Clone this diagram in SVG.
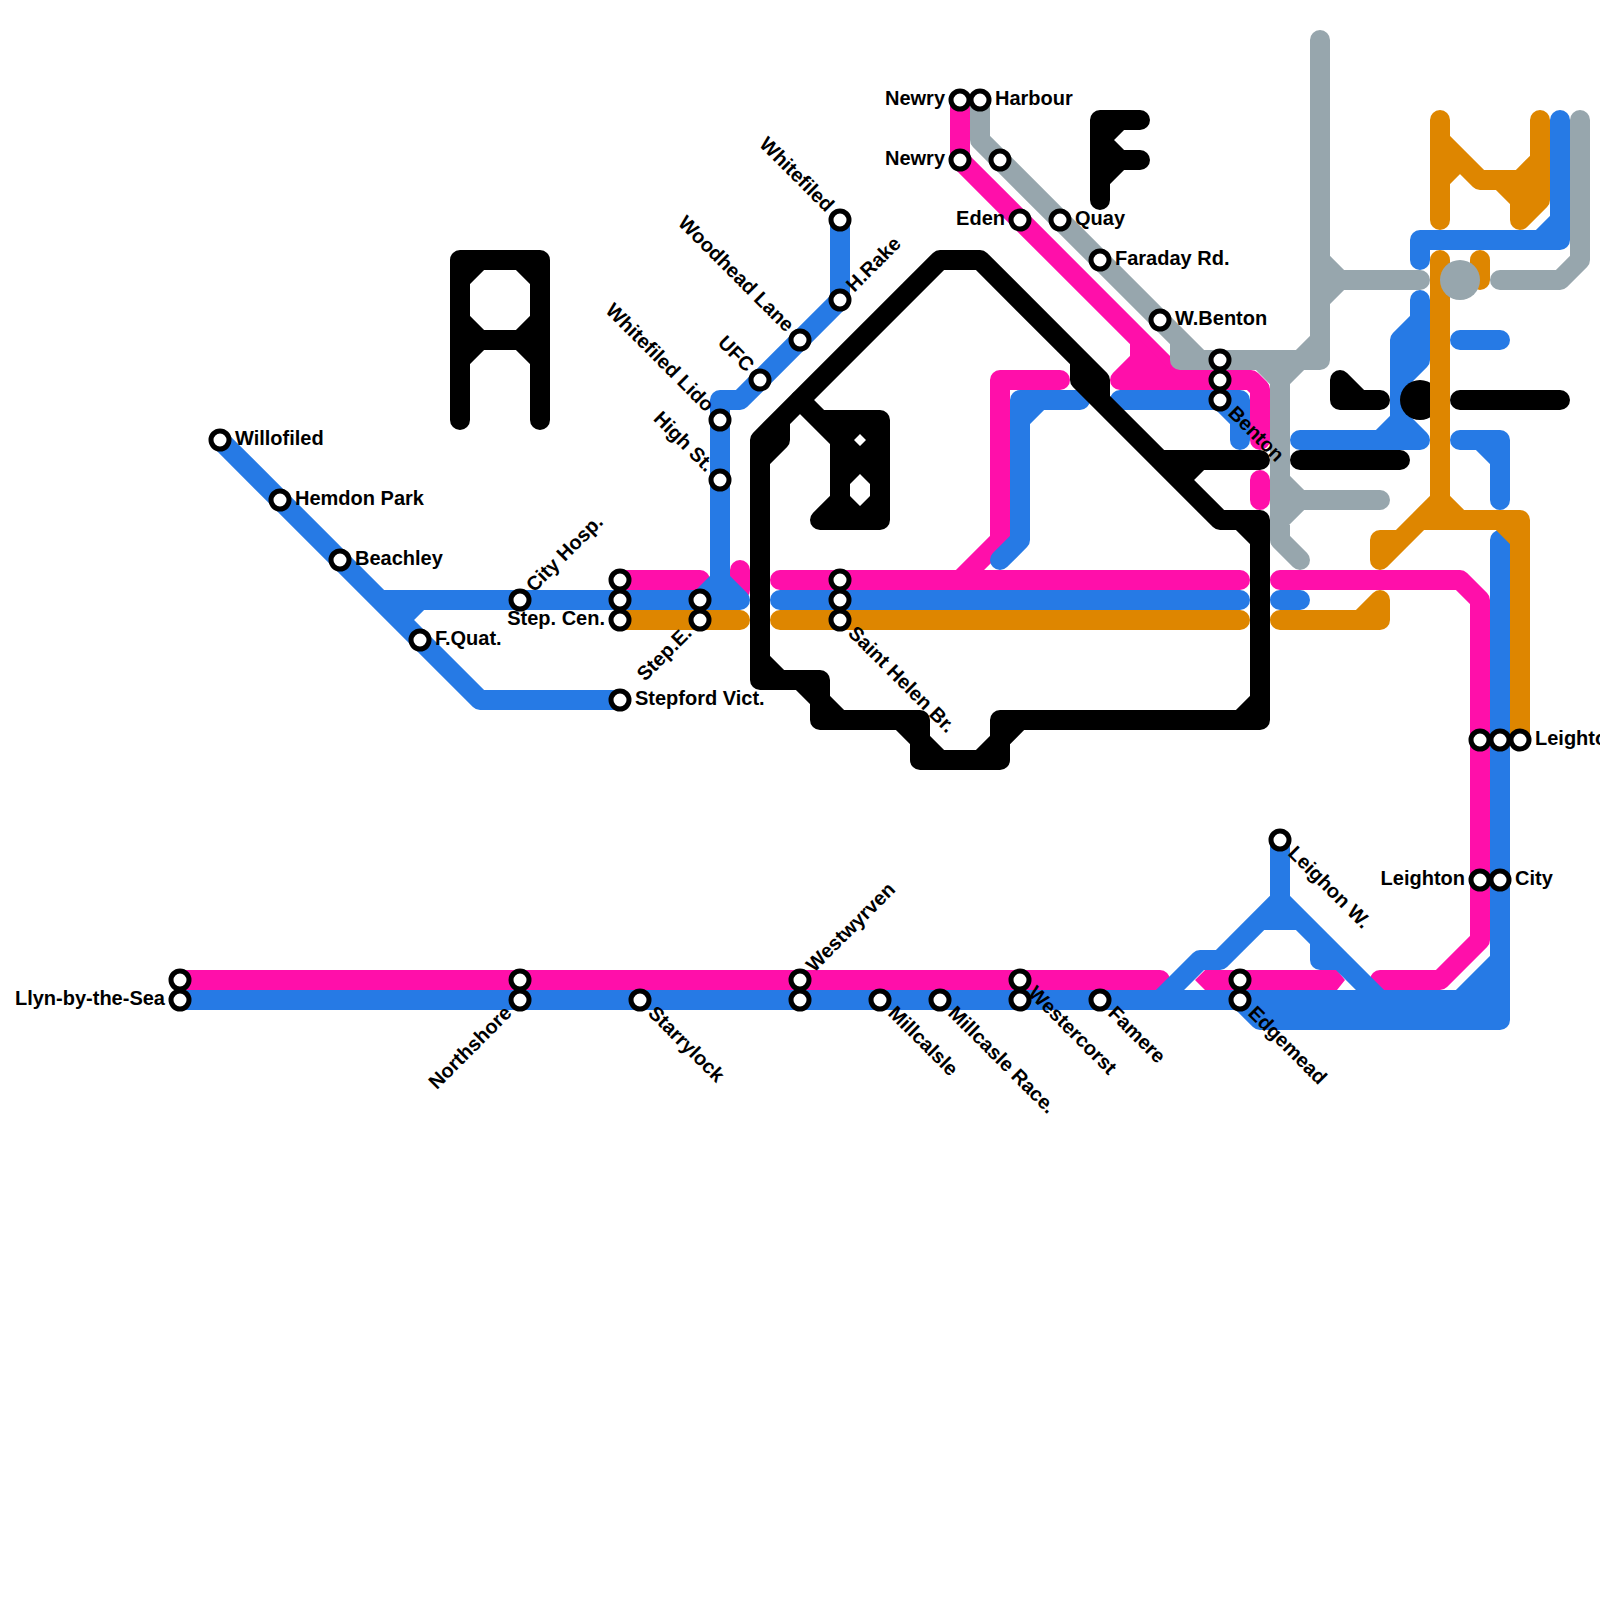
<svg xmlns="http://www.w3.org/2000/svg" width="1600" height="1600" viewBox="0 0 1600 1600">
<style>
.w{fill:none;stroke-width:20;stroke-linecap:round;stroke-linejoin:round}
.p{stroke:#ff0faa}.b{stroke:#267ae5}.g{stroke:#97a6ad}.k{stroke:#000}.o{stroke:#de8600}
.s{fill:#fff;stroke:#000;stroke-width:5}
text{font:bold 20px "Liberation Sans",Arial,sans-serif;fill:#000}
.e{text-anchor:end}
</style>
<rect width="1600" height="1600" fill="#fff"/>
<g id="connectors">
<g id="line-pink">
<path class="w p" d="M180 980H1160M1380 980H1440L1480 940V600L1460 580H1280M620 580H700M780 580H1240M740 570V590M960 100V160L1180 380M1140 340V360L1120 380H1251L1260 389V440M1260 480V500M1060 380H1000V540L960 580"/>
<path fill="#ff0faa" d="M1205 970H1337L1345 980L1337 990H1205L1195 980ZM1140 340L1180 380H1140Z"/>
</g>
<g id="line-blue">
<path class="w b" d="M180 1000H1460L1500 960M1240 1000L1260 1020H1500V540M1160 1000L1200 960H1220L1260 920H1300L1320 940V960H1340M1280 840V900L1380 1000M1280 900L1220 960"/>
<path fill="#267ae5" d="M1460 1000L1500 960V1020H1460Z"/>
<path class="w b" d="M220 440L480 700H620M380 600H740M420 600L400 620M840 220V300L740 400H720V580L700 600M720 580L740 600"/>
<path class="w b" d="M780 600H1240M1280 600H1300M1080 400H1020V540L1000 560M1020 420L1040 400M1120 400H1240V440M1220 400L1240 420"/>
<path class="w b" d="M1420 260V240H1560V120M1540 240L1560 220M1420 300V360L1400 380M1420 320L1400 340V420L1420 440H1300M1400 420L1380 440M1460 340H1500M1460 440H1500V500M1480 440L1500 460"/>
</g>
<g id="line-grey">
<path class="w g" d="M980 100V140L1200 360M1180 340V360H1320V40M1320 340L1280 380V540L1300 560M1260 360L1280 380M1320 300L1340 280H1420M1320 260L1340 280M1280 480L1300 500H1380M1280 520L1300 500M1580 120V260L1560 280H1500"/>
</g>
<g id="line-black">
<path class="w k" d="M460 420V260H540V420M460 340H540M460 280L480 260M520 260L540 280M460 320L480 340M520 340L540 320M460 360L480 340M520 340L540 360"/>
<path class="w k" d="M1100 200V120H1140M1100 160H1140M1100 140L1120 120M1100 140L1120 160M1100 180L1120 160"/>
<path class="w k" d="M1100 400V380L980 260H940L760 440V680H820V720H920V760H1000V720H1260V520H1220L1080 380V360M800 680L840 720M900 720L940 760M1020 720L980 760M760 660L780 680M1260 700L1240 720M1240 520L1260 540M780 420V440L760 460M1160 460H1260M1200 460L1180 480"/>
<path class="w k" d="M800 400L840 440M820 420H880V520H820L840 500V440M840 440V500"/>
<path fill="#000" fill-rule="evenodd" d="M835 420H880V520H835ZM860 434L866 440L860 446L854 440ZM860 474L870 484V496L860 506L850 496V484Z"/>
<path class="w k" d="M1340 400V380L1360 400H1340M1360 400H1380M1460 400H1560M1300 460H1400"/>
<circle cx="1420" cy="400" r="20" fill="#000"/>
</g>
<g id="line-orange">
<path class="w o" d="M620 620H740M780 620H1240M1280 620H1380V600L1360 620"/>
<path class="w o" d="M1440 120V220M1440 140L1480 180H1520L1540 160M1540 120V200L1520 220V180M1520 200L1500 180M1440 180L1460 160"/>
<path class="w o" d="M1440 260V500L1420 520L1380 560V540H1400L1420 520H1520V740M1440 500L1460 520M1500 520L1520 540M1480 260V280"/>
</g>
<circle cx="1460" cy="280" r="20" fill="#97a6ad"/>
</g>
<g id="nodes">
<g id="n-willofiled"><circle class="s" cx="220" cy="440" r="9"/><text x="235" y="445">Willofiled</text></g>
<g id="n-hemdon"><circle class="s" cx="280" cy="500" r="9"/><text x="295" y="505">Hemdon Park</text></g>
<g id="n-beachley"><circle class="s" cx="340" cy="560" r="9"/><text x="355" y="565">Beachley</text></g>
<g id="n-fquat"><circle class="s" cx="420" cy="640" r="9"/><text x="435" y="645">F.Quat.</text></g>
<g id="n-cityhosp"><circle class="s" cx="520" cy="600" r="9"/><text x="535" y="605" transform="rotate(-45 520 600)">City Hosp.</text></g>
<g id="n-stepcen"><circle class="s" cx="620" cy="580" r="9"/><circle class="s" cx="620" cy="600" r="9"/><circle class="s" cx="620" cy="620" r="9"/><text class="e" x="605" y="625">Step. Cen.</text></g>
<g id="n-stepvict"><circle class="s" cx="620" cy="700" r="9"/><text x="635" y="705">Stepford Vict.</text></g>
<g id="n-stepe"><circle class="s" cx="700" cy="600" r="9"/><circle class="s" cx="700" cy="620" r="9"/><text class="e" x="685" y="625" transform="rotate(-45 700 620)">Step.E.</text></g>
<g id="n-lido"><circle class="s" cx="720" cy="420" r="9"/><text class="e" x="705" y="425" transform="rotate(45 720 420)">Whitefiled Lido</text></g>
<g id="n-highst"><circle class="s" cx="720" cy="480" r="9"/><text class="e" x="705" y="485" transform="rotate(45 720 480)">High St.</text></g>
<g id="n-ufc"><circle class="s" cx="760" cy="380" r="9"/><text class="e" x="745" y="385" transform="rotate(45 760 380)">UFC</text></g>
<g id="n-woodhead"><circle class="s" cx="800" cy="340" r="9"/><text class="e" x="785" y="345" transform="rotate(45 800 340)">Woodhead Lane</text></g>
<g id="n-hrake"><circle class="s" cx="840" cy="300" r="9"/><text x="855" y="305" transform="rotate(-45 840 300)">H.Rake</text></g>
<g id="n-whitefiled"><circle class="s" cx="840" cy="220" r="9"/><text class="e" x="825" y="225" transform="rotate(45 840 220)">Whitefiled</text></g>
<g id="n-sthelen"><circle class="s" cx="840" cy="580" r="9"/><circle class="s" cx="840" cy="600" r="9"/><circle class="s" cx="840" cy="620" r="9"/><text x="855" y="625" transform="rotate(45 840 620)">Saint Helen Br.</text></g>
<g id="n-newry1"><circle class="s" cx="960" cy="100" r="9"/><text class="e" x="945" y="105">Newry</text></g>
<g id="n-harbour"><circle class="s" cx="980" cy="100" r="9"/><text x="995" y="105">Harbour</text></g>
<g id="n-newry2"><circle class="s" cx="960" cy="160" r="9"/><text class="e" x="945" y="165">Newry</text></g>
<g id="n-grey"><circle class="s" cx="1000" cy="160" r="9"/></g>
<g id="n-eden"><circle class="s" cx="1020" cy="220" r="9"/><text class="e" x="1005" y="225">Eden</text></g>
<g id="n-quay"><circle class="s" cx="1060" cy="220" r="9"/><text x="1075" y="225">Quay</text></g>
<g id="n-faraday"><circle class="s" cx="1100" cy="260" r="9"/><text x="1115" y="265">Faraday Rd.</text></g>
<g id="n-wbenton"><circle class="s" cx="1160" cy="320" r="9"/><text x="1175" y="325">W.Benton</text></g>
<g id="n-benton"><circle class="s" cx="1220" cy="360" r="9"/><circle class="s" cx="1220" cy="380" r="9"/><circle class="s" cx="1220" cy="400" r="9"/><text x="1235" y="405" transform="rotate(45 1220 400)">Benton</text></g>
<g id="n-leighton-t"><circle class="s" cx="1480" cy="740" r="9"/><circle class="s" cx="1500" cy="740" r="9"/><circle class="s" cx="1520" cy="740" r="9"/><text x="1535" y="745">Leighton</text></g>
<g id="n-leighton"><circle class="s" cx="1480" cy="880" r="9"/><text class="e" x="1465" y="885">Leighton</text></g>
<g id="n-city"><circle class="s" cx="1500" cy="880" r="9"/><text x="1515" y="885">City</text></g>
<g id="n-leighonw"><circle class="s" cx="1280" cy="840" r="9"/><text x="1295" y="845" transform="rotate(45 1280 840)">Leighon W.</text></g>
<g id="n-llyn"><circle class="s" cx="180" cy="980" r="9"/><circle class="s" cx="180" cy="1000" r="9"/><text class="e" x="165" y="1005">Llyn-by-the-Sea</text></g>
<g id="n-northshore"><circle class="s" cx="520" cy="980" r="9"/><circle class="s" cx="520" cy="1000" r="9"/><text class="e" x="505" y="1005" transform="rotate(-45 520 1000)">Northshore</text></g>
<g id="n-starrylock"><circle class="s" cx="640" cy="1000" r="9"/><text x="655" y="1005" transform="rotate(45 640 1000)">Starrylock</text></g>
<g id="n-westwyrven"><circle class="s" cx="800" cy="980" r="9"/><circle class="s" cx="800" cy="1000" r="9"/><text x="815" y="985" transform="rotate(-45 800 980)">Westwyrven</text></g>
<g id="n-millcalsle"><circle class="s" cx="880" cy="1000" r="9"/><text x="895" y="1005" transform="rotate(45 880 1000)">Millcalsle</text></g>
<g id="n-millrace"><circle class="s" cx="940" cy="1000" r="9"/><text x="955" y="1005" transform="rotate(45 940 1000)">Millcasle Race.</text></g>
<g id="n-westercorst"><circle class="s" cx="1020" cy="980" r="9"/><circle class="s" cx="1020" cy="1000" r="9"/><text x="1035" y="985" transform="rotate(45 1020 980)">Westercorst</text></g>
<g id="n-famere"><circle class="s" cx="1100" cy="1000" r="9"/><text x="1115" y="1005" transform="rotate(45 1100 1000)">Famere</text></g>
<g id="n-edgemead"><circle class="s" cx="1240" cy="980" r="9"/><circle class="s" cx="1240" cy="1000" r="9"/><text x="1255" y="1005" transform="rotate(45 1240 1000)">Edgemead</text></g>
</g>
</svg>
